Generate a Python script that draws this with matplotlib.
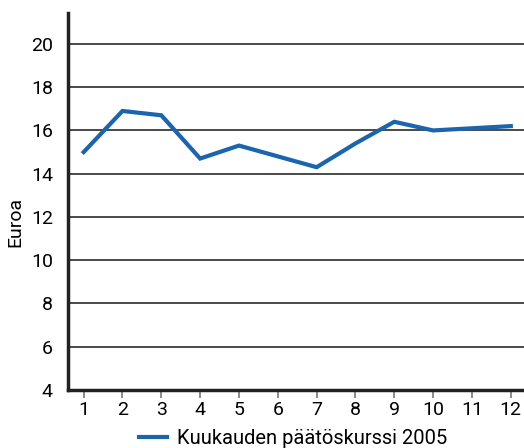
import matplotlib
matplotlib.use('Agg')
import matplotlib.pyplot as plt

plt.rcParams['font.family'] = ['Roboto', 'DejaVu Sans']

months = [1, 2, 3, 4, 5, 6, 7, 8, 9, 10, 11, 12]
price = [15.0, 16.9, 16.7, 14.7, 15.3, 14.8, 14.3, 15.4, 16.4, 16.0, 16.1, 16.2]
series_label = 'Kuukauden päätöskurssi 2005'
yticks = [4, 6, 8, 10, 12, 14, 16, 18, 20]

fig = plt.figure(figsize=(5.24, 4.48), dpi=100)
ax = fig.add_axes([0.13, 0.1295, 0.87, 0.8415])

for t in yticks[1:]:
    ax.axhline(t, color='#3a3a3a', lw=1.3, zorder=1)

ax.plot(months, price, color='#1b64ae', lw=3, label=series_label, zorder=3,
        solid_joinstyle='miter')

ax.set_xlim(0.6, 12.34)
ax.set_ylim(4, 21.43)
ax.set_xticks(months)
ax.set_yticks(yticks)
ax.tick_params(axis='x', direction='out', length=6, width=1.2, color='#777777',
               labelsize=14, pad=2)
ax.tick_params(axis='y', length=0, labelsize=14, pad=11)

for s in ['top', 'right']:
    ax.spines[s].set_visible(False)
for s in ['left', 'bottom']:
    ax.spines[s].set_linewidth(2.5)
    ax.spines[s].set_color('#222222')

ax.set_ylabel('Euroa', fontsize=14)
ax.yaxis.set_label_coords(-0.095, 0.445)

fig.legend(loc='lower center', bbox_to_anchor=(0.56, -0.04), frameon=False,
           fontsize=14.5, handlelength=1.4, handletextpad=0.5)

fig.savefig('out.png', dpi=100)
